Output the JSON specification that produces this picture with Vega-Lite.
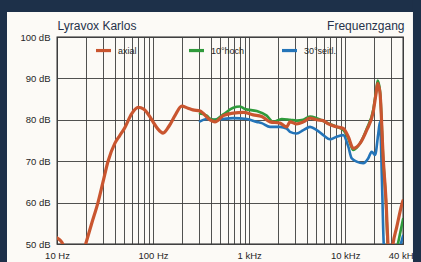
{
  "$schema": "https://vega.github.io/schema/vega-lite/v6.json",
  "width": 346,
  "height": 207,
  "autosize": {"type": "none"},
  "padding": {"left": 57, "top": 37, "right": 18, "bottom": 18},
  "background": "#fcfaf6",
  "config": {
    "view": {"stroke": "#222222", "strokeWidth": 1.3, "fill": null},
    "font": "Liberation Sans"
  },
  "datasets": {
    "curves": [
    {"s":"axial","f":10,"db":51.5},{"s":"axial","f":10.7,"db":51},{"s":"axial","f":11.5,"db":50},{"s":"axial","f":13,"db":45},{"s":"axial","f":16,"db":42},{"s":"axial","f":19.9,"db":50},{"s":"axial","f":23,"db":55},{"s":"axial","f":26.7,"db":60},{"s":"axial","f":30,"db":64.8},{"s":"axial","f":34,"db":70},{"s":"axial","f":40,"db":74.3},{"s":"axial","f":45,"db":76.2},{"s":"axial","f":50,"db":77.8},{"s":"axial","f":60,"db":81.5},{"s":"axial","f":70,"db":83},{"s":"axial","f":80,"db":82.6},{"s":"axial","f":93,"db":80.7},{"s":"axial","f":100,"db":79.5},{"s":"axial","f":112,"db":77.8},{"s":"axial","f":127,"db":76.8},{"s":"axial","f":147,"db":78.5},{"s":"axial","f":169,"db":81},{"s":"axial","f":199,"db":83.3},{"s":"axial","f":231,"db":82.8},{"s":"axial","f":260,"db":82.4},{"s":"axial","f":308,"db":82.1},{"s":"axial","f":391,"db":80},{"s":"axial","f":441,"db":79.5},{"s":"axial","f":538,"db":81},{"s":"axial","f":684,"db":81.6},{"s":"axial","f":870,"db":81.8},{"s":"axial","f":1105,"db":81.2},{"s":"axial","f":1352,"db":80.8},{"s":"axial","f":1650,"db":79.5},{"s":"axial","f":2097,"db":79.2},{"s":"axial","f":2462,"db":78.3},{"s":"axial","f":2665,"db":79.5},{"s":"axial","f":3129,"db":79},{"s":"axial","f":3664,"db":79.5},{"s":"axial","f":4305,"db":80.4},{"s":"axial","f":5052,"db":80},{"s":"axial","f":5918,"db":79.8},{"s":"axial","f":6673,"db":79},{"s":"axial","f":8164,"db":78.3},{"s":"axial","f":9559,"db":77.9},{"s":"axial","f":10778,"db":75.9},{"s":"axial","f":12150,"db":73.1},{"s":"axial","f":14268,"db":74.3},{"s":"axial","f":16750,"db":77.5},{"s":"axial","f":19625,"db":82},{"s":"axial","f":21000,"db":86.5},{"s":"axial","f":21810,"db":88.8},{"s":"axial","f":23040,"db":86.5},{"s":"axial","f":24950,"db":70.3},{"s":"axial","f":26600,"db":60.6},{"s":"axial","f":27900,"db":50},{"s":"axial","f":29500,"db":44},{"s":"axial","f":31480,"db":50},{"s":"axial","f":34360,"db":54},{"s":"axial","f":38730,"db":59.4},{"s":"axial","f":40000,"db":60.5},
    {"s":"10°hoch","f":308,"db":81.5},{"s":"10°hoch","f":362,"db":81},{"s":"10°hoch","f":391,"db":80.3},{"s":"10°hoch","f":441,"db":80},{"s":"10°hoch","f":538,"db":81.3},{"s":"10°hoch","f":684,"db":82.9},{"s":"10°hoch","f":804,"db":83.2},{"s":"10°hoch","f":906,"db":82.6},{"s":"10°hoch","f":1199,"db":82.1},{"s":"10°hoch","f":1524,"db":81},{"s":"10°hoch","f":1785,"db":79.5},{"s":"10°hoch","f":2184,"db":80.2},{"s":"10°hoch","f":2665,"db":80},{"s":"10°hoch","f":3129,"db":79.8},{"s":"10°hoch","f":3664,"db":80},{"s":"10°hoch","f":4305,"db":80.8},{"s":"10°hoch","f":5052,"db":80.4},{"s":"10°hoch","f":6420,"db":79.3},{"s":"10°hoch","f":8164,"db":78.3},{"s":"10°hoch","f":9559,"db":77.5},{"s":"10°hoch","f":10778,"db":75.5},{"s":"10°hoch","f":12150,"db":72.7},{"s":"10°hoch","f":14268,"db":74.3},{"s":"10°hoch","f":16750,"db":77.8},{"s":"10°hoch","f":19625,"db":82.5},{"s":"10°hoch","f":21000,"db":87},{"s":"10°hoch","f":21810,"db":89.5},{"s":"10°hoch","f":23040,"db":87},{"s":"10°hoch","f":24950,"db":70},{"s":"10°hoch","f":26600,"db":60},{"s":"10°hoch","f":27700,"db":50},{"s":"10°hoch","f":29500,"db":44},{"s":"10°hoch","f":33000,"db":47},{"s":"10°hoch","f":36500,"db":51.5},{"s":"10°hoch","f":40000,"db":56},
    {"s":"30°seitl.","f":308,"db":79.6},{"s":"30°seitl.","f":362,"db":80.2},{"s":"30°seitl.","f":424,"db":80},{"s":"30°seitl.","f":538,"db":80.2},{"s":"30°seitl.","f":684,"db":80.4},{"s":"30°seitl.","f":944,"db":80.2},{"s":"30°seitl.","f":1199,"db":79.5},{"s":"30°seitl.","f":1352,"db":79.2},{"s":"30°seitl.","f":1650,"db":78.3},{"s":"30°seitl.","f":2097,"db":78.3},{"s":"30°seitl.","f":2462,"db":77.9},{"s":"30°seitl.","f":2665,"db":77.1},{"s":"30°seitl.","f":3129,"db":76.7},{"s":"30°seitl.","f":3664,"db":77.5},{"s":"30°seitl.","f":4305,"db":78.3},{"s":"30°seitl.","f":5052,"db":77.5},{"s":"30°seitl.","f":5918,"db":76.3},{"s":"30°seitl.","f":6950,"db":75.3},{"s":"30°seitl.","f":8164,"db":75.9},{"s":"30°seitl.","f":9559,"db":76.3},{"s":"30°seitl.","f":10778,"db":73.5},{"s":"30°seitl.","f":11690,"db":70.7},{"s":"30°seitl.","f":13180,"db":69.9},{"s":"30°seitl.","f":15440,"db":69.5},{"s":"30°seitl.","f":17404,"db":70.7},{"s":"30°seitl.","f":18886,"db":72.3},{"s":"30°seitl.","f":20440,"db":71.5},{"s":"30°seitl.","f":22125,"db":76.7},{"s":"30°seitl.","f":23040,"db":79.5},{"s":"30°seitl.","f":24170,"db":65},{"s":"30°seitl.","f":25200,"db":50},{"s":"30°seitl.","f":27000,"db":44},{"s":"30°seitl.","f":33000,"db":44},{"s":"30°seitl.","f":37000,"db":49},{"s":"30°seitl.","f":40000,"db":52}
    ],
    "frame": [{"part": "frame"}]
  },
  "layer": [
    {
      "data": {"name": "frame"},
      "mark": {"type": "rect", "color": "#1d3049", "opacity": 1},
      "encoding": {
        "x": {"datum": 0.5, "type": "quantitative"},
        "x2": {"datum": 3.016},
        "y": {"datum": 250, "type": "quantitative"},
        "y2": {"datum": 0}
      }
    },
    {
      "data": {"name": "frame"},
      "mark": {"type": "rect", "color": "#1d3049", "opacity": 1},
      "encoding": {
        "x": {"datum": 0.5, "type": "quantitative"},
        "x2": {"datum": 500000},
        "y": {"datum": 250, "type": "quantitative"},
        "y2": {"datum": 106.04}
      }
    },
    {
      "data": {"name": "frame"},
      "mark": {"type": "rect", "color": "#1d3049", "opacity": 1},
      "encoding": {
        "x": {"datum": 50800, "type": "quantitative"},
        "x2": {"datum": 500000},
        "y": {"datum": 250, "type": "quantitative"},
        "y2": {"datum": 0}
      }
    },
    {
      "data": {"name": "curves"},
      "encoding": {
        "x": {
          "field": "f", "type": "quantitative",
          "scale": {"type": "log", "domain": [10, 40000], "nice": false},
          "axis": {
            "title": "Frequenzgang",
            "values": [10,20,30,40,50,60,70,80,90,100,200,300,400,500,600,700,800,900,1000,2000,3000,4000,5000,6000,7000,8000,9000,10000,20000,30000,40000],
            "labelExpr": "datum.value == 10 ? '10 Hz' : datum.value == 100 ? '100 Hz' : datum.value == 1000 ? '1 kHz' : datum.value == 10000 ? '10 kHz' : datum.value == 40000 ? '40 kHz' : ''",
            "grid": true, "ticks": false, "domain": false,
            "labelOverlap": false, "labelFlush": false,
            "labelFontSize": 9.5, "labelColor": "#262626", "labelPadding": 6,
            "gridColor": "#3d3d3d", "gridWidth": 0.9,
            "titleX": 347, "titleY": -215, "titleAlign": "right", "titleBaseline": "alphabetic",
            "titleFontSize": 12, "titleFontWeight": "normal", "titleColor": "#26324a"
          }
        },
        "y": {
          "field": "db", "type": "quantitative",
          "scale": {"domain": [50, 100], "nice": false, "zero": false},
          "axis": {
            "title": "Lyravox Karlos",
            "values": [50,55,60,65,70,75,80,85,90,95,100],
            "labelExpr": "datum.value % 10 == 0 ? datum.value + ' dB' : ''",
            "grid": true, "ticks": false, "domain": false,
            "labelOverlap": false, "labelFlush": false,
            "labelFontSize": 9.5, "labelColor": "#262626", "labelPadding": 7,
            "gridColor": "#3d3d3d", "gridWidth": 0.9,
            "titleAngle": 0, "titleX": 0, "titleY": -8, "titleAlign": "left", "titleBaseline": "alphabetic",
            "titleFontSize": 12, "titleFontWeight": "normal", "titleColor": "#26324a"
          }
        },
        "color": {"field": "s", "type": "nominal",
          "scale": {"domain": ["axial", "10°hoch", "30°seitl."], "range": ["#c9552f", "#2f9a3b", "#2474b8"]},
          "legend": {"orient": "none", "legendX": 37, "legendY": 4, "direction": "horizontal", "columns": 3, "title": null, "symbolType": "stroke", "symbolSize": 225, "symbolStrokeWidth": 3.2, "labelFontSize": 9, "labelColor": "#262626", "columnPadding": 30, "gridAlign": "all", "labelOffset": 5}}
      },
      "layer": [
        {
          "transform": [{"filter": "datum.s == '30°seitl.'"}],
          "mark": {"type": "line", "strokeWidth": 2.6, "interpolate": "monotone", "clip": true, "strokeCap": "round", "strokeJoin": "round"}
        },
        {
          "transform": [{"filter": "datum.s == '10°hoch'"}],
          "mark": {"type": "line", "strokeWidth": 2.6, "interpolate": "monotone", "clip": true, "strokeCap": "round", "strokeJoin": "round"}
        },
        {
          "transform": [{"filter": "datum.s == 'axial'"}],
          "mark": {"type": "line", "strokeWidth": 3.2, "interpolate": "monotone", "clip": true, "strokeCap": "round", "strokeJoin": "round"}
        }
      ]
    }
  ]
}
